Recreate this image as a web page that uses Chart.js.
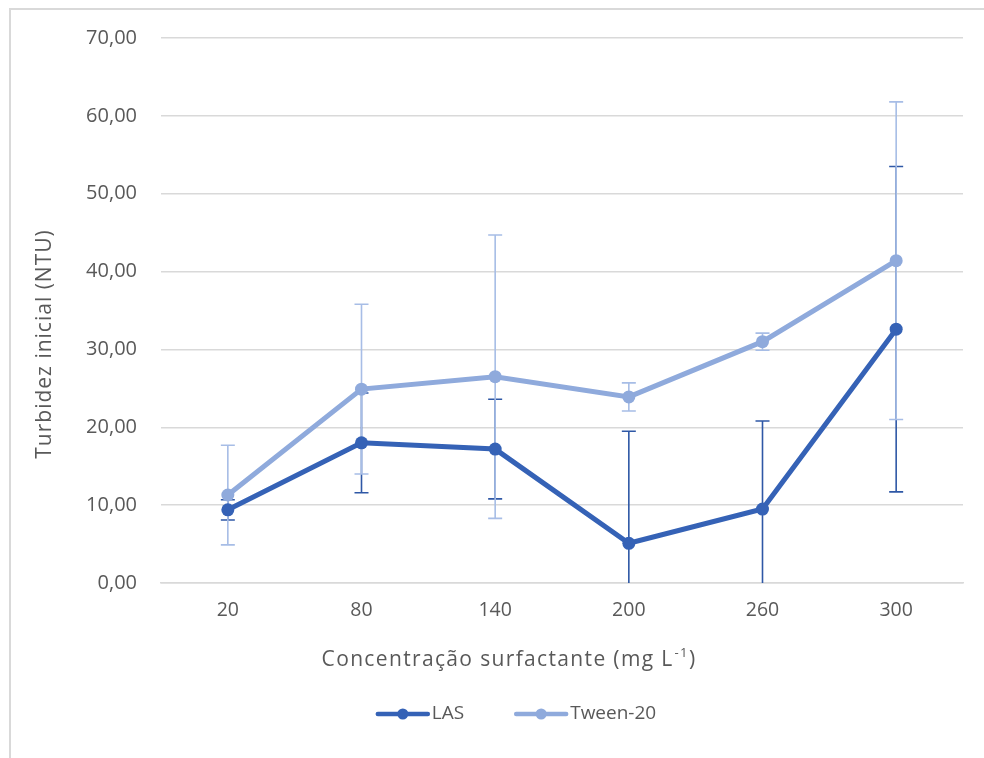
<!DOCTYPE html>
<html>
<head>
<meta charset="utf-8">
<script src="https://cdn.jsdelivr.net/npm/chart.js@4.4.1/dist/chart.umd.min.js"></script>
<style>
  html, body { margin: 0; padding: 0; background: #ffffff; }
  #wrap { position: relative; width: 984px; height: 758px; overflow: hidden; }
  #frame { position: absolute; left: 9px; top: 8px; width: 1000px; height: 800px;
           border-left: 2px solid #d9d9d9; border-top: 2px solid #d9d9d9; pointer-events: none; }
  canvas { position: absolute; left: 0; top: 0; }
</style>
</head>
<body>
<div id="wrap">
  <canvas id="chart" width="984" height="758"></canvas>
  <div id="frame"></div>
</div>
<script>
// Surfactant concentrations (mg L-1)
const categories = ['20', '80', '140', '200', '260', '300'];
// Initial turbidity (NTU), mean and standard deviation
const lasValues   = [9.4, 18.0, 17.2, 5.1, 9.5, 32.6];
const lasErrors   = [1.3, 6.4, 6.4, 14.4, 11.3, 20.9];
const tweenValues = [11.3, 24.9, 26.5, 23.9, 31.0, 41.4];
const tweenErrors = [6.4, 10.9, 18.2, 1.8, 1.1, 20.4];
const seriesNames = ['LAS', 'Tween-20'];
const yTitle = 'Turbidez inicial (NTU)';
const xTitleMain = 'Concentração surfactante (mg L';
const xTitleSup = '-1';
const xTitleEnd = ')';

const FONT = '"Open Sans", Lato, sans-serif';
const TEXT = '#595959';
const LAS_COLOR = '#3562B6';
const LAS_ERR = '#2F58A6';
const TWEEN_COLOR = '#8FAADC';
const TWEEN_ERR = '#A7BDE6';

// Vertical error bars with caps, drawn beneath the lines
const errorBars = {
  id: 'errorBars',
  beforeDatasetsDraw(chart) {
    const { ctx, chartArea, scales } = chart;
    const x = scales.x, y = scales.y;
    ctx.save();
    ctx.beginPath();
    ctx.rect(chartArea.left, chartArea.top - 1, chartArea.right - chartArea.left, chartArea.bottom - chartArea.top + 1);
    ctx.clip();
    chart.data.datasets.forEach(ds => {
      ctx.strokeStyle = ds.errColor;
      ctx.lineWidth = 1.6;
      ds.data.forEach((v, i) => {
        const e = ds.errors[i];
        const px = x.getPixelForValue(i);
        const top = y.getPixelForValue(v + e);
        const bot = y.getPixelForValue(v - e);
        ctx.beginPath();
        ctx.moveTo(px, top); ctx.lineTo(px, bot);
        ctx.moveTo(px - 7, top); ctx.lineTo(px + 7, top);
        ctx.moveTo(px - 7, bot); ctx.lineTo(px + 7, bot);
        ctx.stroke();
      });
    });
    ctx.restore();
  }
};

// Axis titles and legend
const decorations = {
  id: 'decorations',
  afterDraw(chart) {
    const { ctx } = chart;
    ctx.save();
    ctx.fillStyle = TEXT;
    ctx.textBaseline = 'middle';

    // y-axis title
    ctx.save();
    ctx.letterSpacing = '1px';
    ctx.translate(45, 344);
    ctx.rotate(-Math.PI / 2);
    ctx.font = '21px ' + FONT;
    ctx.textAlign = 'center';
    ctx.fillText(yTitle, 0, 0);
    ctx.restore();

    // x-axis title with superscript
    ctx.letterSpacing = '1.35px';
    ctx.font = '21px ' + FONT;
    const w1 = ctx.measureText(xTitleMain).width;
    ctx.font = '13px ' + FONT;
    const w2 = ctx.measureText(xTitleSup).width;
    ctx.font = '21px ' + FONT;
    const w3 = ctx.measureText(xTitleEnd).width;
    let tx = 509 - (w1 + w2 + w3 + 1) / 2;
    const ty = 660;
    ctx.textAlign = 'left';
    ctx.fillText(xTitleMain, tx, ty);
    tx += w1 + 1;
    ctx.font = '13px ' + FONT;
    ctx.fillText(xTitleSup, tx, ty - 7);
    tx += w2;
    ctx.font = '21px ' + FONT;
    ctx.fillText(xTitleEnd, tx, ty);

    // legend
    ctx.letterSpacing = '0px';
    const ly = 714;
    const lineLen = 50;
    const gapText = 4;
    const gapItems = 52;
    ctx.font = '19px ' + FONT;
    const items = chart.data.datasets.map(ds => ({ ds, w: ctx.measureText(ds.label).width }));
    const total = items.reduce((s, it) => s + lineLen + gapText + it.w, 0) + gapItems * (items.length - 1);
    let lx = 517 - total / 2;
    items.forEach(it => {
      ctx.strokeStyle = it.ds.borderColor;
      ctx.lineWidth = 4.5;
      ctx.lineCap = 'round';
      ctx.beginPath();
      ctx.moveTo(lx, ly); ctx.lineTo(lx + lineLen, ly);
      ctx.stroke();
      ctx.fillStyle = it.ds.borderColor;
      ctx.beginPath();
      ctx.arc(lx + lineLen / 2, ly, 5.5, 0, Math.PI * 2);
      ctx.fill();
      ctx.fillStyle = TEXT;
      ctx.fillText(it.ds.label, lx + lineLen + gapText, ly);
      lx += lineLen + gapText + it.w + gapItems;
    });
    ctx.restore();
  }
};

new Chart(document.getElementById('chart'), {
  type: 'line',
  data: {
    labels: categories,
    datasets: [
      {
        label: seriesNames[0],
        data: lasValues,
        errors: lasErrors,
        errColor: LAS_ERR,
        borderColor: LAS_COLOR,
        backgroundColor: LAS_COLOR,
        borderWidth: 5,
        pointRadius: 6.5,
        pointHoverRadius: 6.5,
        pointBorderWidth: 0,
        tension: 0,
        order: 1
      },
      {
        label: seriesNames[1],
        data: tweenValues,
        errors: tweenErrors,
        errColor: TWEEN_ERR,
        borderColor: TWEEN_COLOR,
        backgroundColor: TWEEN_COLOR,
        borderWidth: 5,
        pointRadius: 6.5,
        pointHoverRadius: 6.5,
        pointBorderWidth: 0,
        tension: 0,
        order: 2
      }
    ]
  },
  options: {
    responsive: false,
    animation: false,
    layout: { padding: { left: 0, right: 21, top: 38, bottom: 115 } },
    plugins: { legend: { display: false }, tooltip: { enabled: false } },
    scales: {
      x: {
        type: 'category',
        offset: true,
        grid: { display: false, drawTicks: false },
        border: { display: true, color: '#d9d9d9', width: 1.5 },
        ticks: { color: TEXT, font: { family: FONT, size: 19.5 }, padding: 16 },
        afterFit(scale) { scale.height = 60; }
      },
      y: {
        min: 0,
        max: 70,
        grid: { color: '#d9d9d9', lineWidth: 1.5, drawTicks: false },
        border: { display: false },
        ticks: {
          stepSize: 10,
          color: TEXT,
          font: { family: FONT, size: 20 },
          padding: 24,
          callback: v => v.toFixed(2).replace('.', ',')
        },
        afterFit(scale) { scale.width = 161; }
      }
    }
  },
  plugins: [errorBars, decorations]
});
</script>
</body>
</html>
